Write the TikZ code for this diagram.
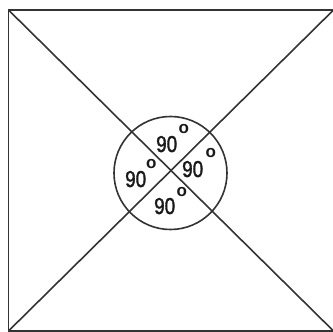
\documentclass[tikz,border=0pt]{standalone}
\usepackage{fontspec}
\setmainfont{Liberation Sans}
\newfontfamily\anglefont[FakeStretch=0.82, FakeBold=1.4]{Liberation Sans}
\usetikzlibrary{positioning}

\tikzset{
  edge/.style={line width=1.6pt, black!80},
  angle/.style={font=\anglefont\fontsize{23}{23}\selectfont, inner sep=0pt, anchor=base west, black!90},
  degmark/.style={font=\fontsize{17}{17}\selectfont\bfseries, inner sep=0pt, black!90}
}

\begin{document}
\begin{tikzpicture}[x=1pt, y=-1pt]
    \useasboundingbox (0,0) rectangle (333,332);
    \coordinate (tl) at (8.5,10);
    \coordinate (tr) at (333.5,10);
    \coordinate (bl) at (8.5,331);
    \coordinate (br) at (333.5,331);
    \node[draw, edge, circle, minimum size=113pt, inner sep=0pt] (ring) at (170.5,173) {};
    \draw[edge] (tr) -- (tl) -- (bl) -- (br);
    \draw[edge] (tl) -- (br);
    \draw[edge] (bl) -- (tr);
    % the four right angles
    \node[angle] (top) at (156,152) {90};
    \node[angle] (left) at (125,187) {90};
    \node[angle] (right) at (182,177) {90};
    \node[angle] (bottom) at (154,214) {90};
    \node[degmark, above right=2pt and 1pt of top.north east] (topdeg) {o};
    \node[degmark, above right=1.5pt and -0.5pt of left.north east] (leftdeg) {o};
    \node[degmark, above right=2.5pt and 2pt of right.north east] (rightdeg) {o};
    \node[degmark, above right=1pt and 1pt of bottom.north east] (bottomdeg) {o};
\end{tikzpicture}
\end{document}
